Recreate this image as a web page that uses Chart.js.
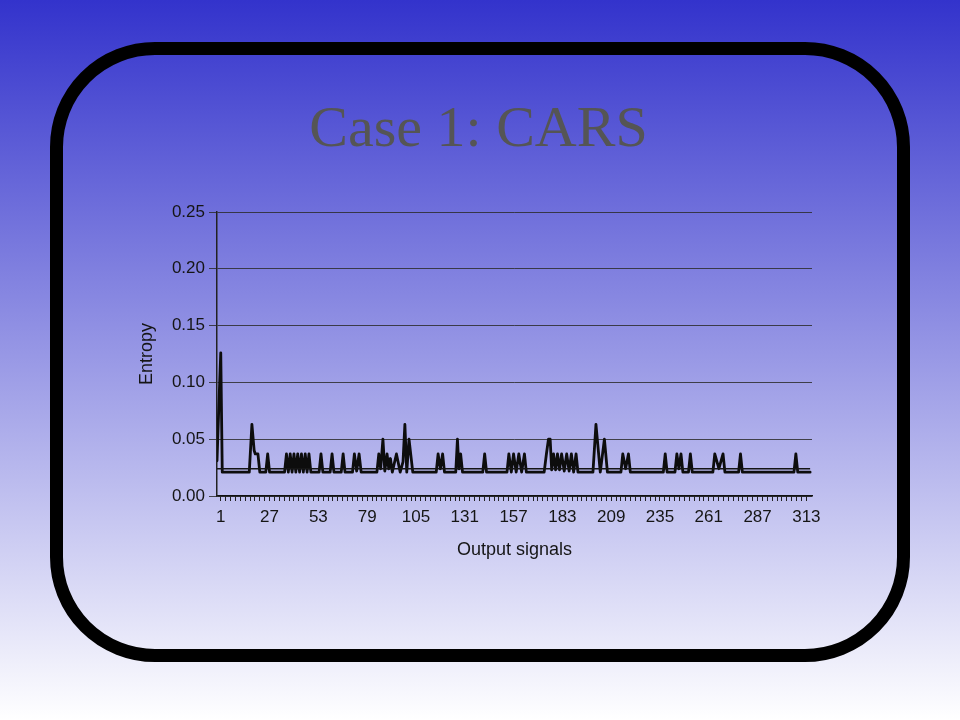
<!DOCTYPE html>
<html>
<head>
<meta charset="utf-8">
<title>Case 1: CARS</title>
<script src="https://cdn.jsdelivr.net/npm/chart.js@4.4.0/dist/chart.umd.min.js"></script>
<style>
html, body { margin: 0; padding: 0; }
body {
    width: 960px; height: 720px; overflow: hidden; position: relative;
    background: linear-gradient(to bottom, #3333cc 0%, #ffffff 100%);
}
.frame {
    position: absolute; left: 50px; top: 42px; width: 860px; height: 620px;
    box-sizing: border-box; border: 13px solid #000; border-radius: 105px;
}
.title {
    position: absolute; left: 0; top: 94px; width: 957px; text-align: center;
    font-family: "Liberation Serif", "Times New Roman", serif;
    font-size: 58px; line-height: 66px; color: #555;
}
.chart-box { position: absolute; left: 130px; top: 195px; width: 700px; height: 380px; }
</style>
</head>
<body>
<div class="frame"></div>
<div class="title">Case 1: CARS</div>
<div class="chart-box"><canvas id="myChart"></canvas></div>

<script>
'use strict';

// ====== DATA ======

// vertices of the entropy line: output signal number / entropy
var signalX = [
    -1, 0, 1, 1.8, 16.2, 17.6, 18.8, 19.4, 20.8, 21.8,
    25, 26, 27, 35, 36, 37, 38, 39, 40, 41,
    42, 43, 44, 45, 46, 47, 48, 49, 53.4, 54.4,
    55.4, 59.3, 60.3, 61.3, 65.2, 66.2, 67.2, 71.2, 72.2, 73.4,
    74.7, 75.8, 84.2, 85.2, 86.2, 87.4, 88.4, 89.6, 90.5, 91.4,
    92.4, 94.6, 96.6, 98.1, 99.1, 100.1, 101.3, 103.3, 115.8, 116.8,
    118, 119.2, 120.2, 126.2, 127.1, 127.9, 128.8, 129.8, 140.6, 141.6,
    142.6, 153.5, 154.5, 155.8, 157, 158.4, 159.8, 161.3, 162.8, 163.8,
    173.3, 174.5, 175.6, 176.5, 177.3, 178.3, 179.4, 180.4, 181.5, 182.6,
    184, 185.3, 186.6, 187.8, 189, 190.3, 191.3, 199.3, 200.9, 203.2,
    205.4, 207, 214.2, 215.2, 216.7, 218.2, 219.2, 236.8, 237.8, 238.8,
    243, 244, 245.1, 246.2, 247.2, 250.2, 251.2, 252.2, 263.2, 264.2,
    266.4, 268.6, 269.6, 276.9, 277.9, 278.9, 306.4, 307.4, 308.4, 315
];
var entropyY = [
    0.031, 0.080, 0.126, 0.021, 0.021, 0.063, 0.040, 0.037, 0.037, 0.021,
    0.021, 0.037, 0.021, 0.021, 0.037, 0.021, 0.037, 0.021, 0.037, 0.021,
    0.037, 0.021, 0.037, 0.021, 0.037, 0.021, 0.037, 0.021, 0.021, 0.037,
    0.021, 0.021, 0.037, 0.021, 0.021, 0.037, 0.021, 0.021, 0.037, 0.022,
    0.037, 0.021, 0.021, 0.037, 0.024, 0.050, 0.022, 0.037, 0.024, 0.033,
    0.021, 0.037, 0.021, 0.030, 0.063, 0.021, 0.050, 0.021, 0.021, 0.037,
    0.024, 0.037, 0.021, 0.021, 0.050, 0.024, 0.037, 0.021, 0.021, 0.037,
    0.021, 0.021, 0.037, 0.021, 0.037, 0.021, 0.037, 0.021, 0.037, 0.021,
    0.021, 0.037, 0.050, 0.050, 0.023, 0.037, 0.023, 0.037, 0.023, 0.037,
    0.022, 0.037, 0.022, 0.037, 0.021, 0.037, 0.021, 0.021, 0.063, 0.021,
    0.050, 0.021, 0.021, 0.037, 0.024, 0.037, 0.021, 0.021, 0.037, 0.021,
    0.021, 0.037, 0.024, 0.037, 0.021, 0.021, 0.037, 0.021, 0.021, 0.037,
    0.024, 0.037, 0.021, 0.021, 0.037, 0.021, 0.021, 0.037, 0.021, 0.021
];

// flat reference line just above the baseline
var refX = [-1, 315];
var refY = [0.024, 0.024];

// axes
var xTickLabels = ['1', '27', '53', '79', '105', '131', '157', '183', '209', '235', '261', '287', '313'];
var yTickValues = [0, 0.05, 0.10, 0.15, 0.20, 0.25];

// ====== CHART ======

function toPoints(xs, ys) {
    return xs.map(function (x, i) { return { x: x, y: ys[i] }; });
}

// small tick marks every 2.6 signals, a label on every 10th
var xTickMarks = [];
for (var k = 0; k <= (xTickLabels.length - 1) * 10; k++) {
    xTickMarks.push(Math.round((1 + k * 2.6) * 10) / 10);
}

var tickFont = { family: '"Liberation Sans", Arial, sans-serif', size: 17 };
var titleFont = { family: '"Liberation Sans", Arial, sans-serif', size: 18 };

var ctx = document.getElementById('myChart').getContext('2d');

var chart = new Chart(ctx, {
    type: 'line',
    data: {
        datasets: [{
            label: 'reference',
            data: toPoints(refX, refY),
            borderColor: '#151515',
            borderWidth: 1.6,
            pointRadius: 0,
            fill: false
        },
        {
            label: 'Entropy',
            data: toPoints(signalX, entropyY),
            borderColor: '#0d0d0d',
            borderWidth: 2.8,
            borderJoinStyle: 'round',
            borderCapStyle: 'round',
            pointRadius: 0,
            tension: 0,
            fill: false
        }]
    },
    options: {
        responsive: true,
        maintainAspectRatio: false,
        devicePixelRatio: 1,
        animation: false,
        events: [],
        layout: { padding: { left: 0, right: 18, top: 17, bottom: 0 } },
        plugins: {
            legend: { display: false },
            tooltip: { enabled: false }
        },
        scales: {
            x: {
                type: 'linear',
                min: -1,
                max: 316,
                afterBuildTicks: function (scale) {
                    scale.ticks = xTickMarks.map(function (v) { return { value: v }; });
                },
                afterFit: function (scale) { scale.height = 79; },
                ticks: {
                    autoSkip: false,
                    maxRotation: 0,
                    minRotation: 0,
                    padding: 6,
                    color: '#151515',
                    font: tickFont,
                    callback: function (value, index) {
                        return index % 10 === 0 ? xTickLabels[index / 10] : '';
                    }
                },
                grid: {
                    drawOnChartArea: false,
                    drawTicks: true,
                    tickLength: 5,
                    color: '#222'
                },
                border: { display: true, color: '#111', width: 1.5 },
                title: {
                    display: true,
                    text: 'Output signals',
                    color: '#151515',
                    font: titleFont,
                    padding: { top: 0, bottom: 14 }
                }
            },
            y: {
                min: 0,
                max: 0.25,
                afterBuildTicks: function (scale) {
                    scale.ticks = yTickValues.map(function (v) { return { value: v }; });
                },
                afterFit: function (scale) { scale.width = 87; },
                ticks: {
                    padding: 4,
                    color: '#151515',
                    font: tickFont,
                    callback: function (value) { return value.toFixed(2); }
                },
                grid: {
                    color: 'rgba(45,45,45,0.85)',
                    lineWidth: 1,
                    tickLength: 8
                },
                border: { display: true, color: '#222', width: 1.5 },
                title: {
                    display: true,
                    text: 'Entropy',
                    color: '#151515',
                    font: titleFont,
                    padding: { top: 6, bottom: 0 }
                }
            }
        }
    }
});
</script>
</body>
</html>
